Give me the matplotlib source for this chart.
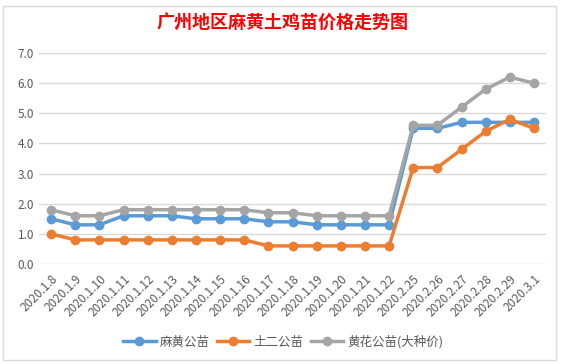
import matplotlib.pyplot as plt
from matplotlib.patches import Rectangle

plt.rcParams['font.family'] = ['Noto Sans CJK SC', 'DejaVu Sans']

dates = ['2020.1.8', '2020.1.9', '2020.1.10', '2020.1.11', '2020.1.12', '2020.1.13',
         '2020.1.14', '2020.1.15', '2020.1.16', '2020.1.17', '2020.1.18', '2020.1.19',
         '2020.1.20', '2020.1.21', '2020.1.22', '2020.2.25', '2020.2.26', '2020.2.27',
         '2020.2.28', '2020.2.29', '2020.3.1']
mahuang = [1.5, 1.3, 1.3, 1.6, 1.6, 1.6, 1.5, 1.5, 1.5, 1.4, 1.4, 1.3, 1.3, 1.3, 1.3,
           4.5, 4.5, 4.7, 4.7, 4.7, 4.7]
tuer = [1.0, 0.8, 0.8, 0.8, 0.8, 0.8, 0.8, 0.8, 0.8, 0.6, 0.6, 0.6, 0.6, 0.6, 0.6,
        3.2, 3.2, 3.8, 4.4, 4.8, 4.5]
huanghua = [1.8, 1.6, 1.6, 1.8, 1.8, 1.8, 1.8, 1.8, 1.8, 1.7, 1.7, 1.6, 1.6, 1.6, 1.6,
            4.6, 4.6, 5.2, 5.8, 6.2, 6.0]

series = [('麻黄公苗', mahuang, '#5B9BD5'),
          ('土二公苗', tuer, '#ED7D31'),
          ('黄花公苗(大种价)', huanghua, '#A5A5A5')]

W, H = 564, 364
fig = plt.figure(figsize=(W / 100, H / 100), dpi=100)
fig.patches.append(Rectangle((3 / W, 4 / H), 553 / W, 354 / H, transform=fig.transFigure,
                             fill=False, edgecolor='#D9D9D9', lw=1))

ax = fig.add_axes([39 / W, 1 - 264 / H, 507 / W, 211 / H])
x = list(range(len(dates)))
for name, vals, col in series:
    ax.plot(x, vals, color=col, lw=2.5, marker='o', ms=6, label=name)

ax.set_xlim(-0.5, len(dates) - 0.5)
ax.set_ylim(0, 7)
ax.set_yticks([i for i in range(8)])
ax.set_yticklabels([f'{i:.1f}' for i in range(8)])
ax.set_xticks(x)
ax.set_xticklabels(dates, rotation=45, ha='right', rotation_mode='anchor')
ax.tick_params(axis='both', length=0, colors='#595959', labelsize=8.5)
ax.tick_params(axis='x', pad=6)
ax.grid(axis='y', color='#D9D9D9', lw=1)
ax.set_axisbelow(True)
for s in ax.spines.values():
    s.set_visible(False)

fig.text(283 / W, 1 - 22 / H, '广州地区麻黄土鸡苗价格走势图', color='red', fontsize=13,
         fontweight='bold', ha='center', va='center')

fig.legend(loc='center', bbox_to_anchor=(283 / W, 1 - 342 / H), ncol=3, frameon=False,
           fontsize=9, handlelength=2.6, columnspacing=0.6, handletextpad=0.3,
           labelcolor='#595959')

fig.savefig('out.png', dpi=100)
